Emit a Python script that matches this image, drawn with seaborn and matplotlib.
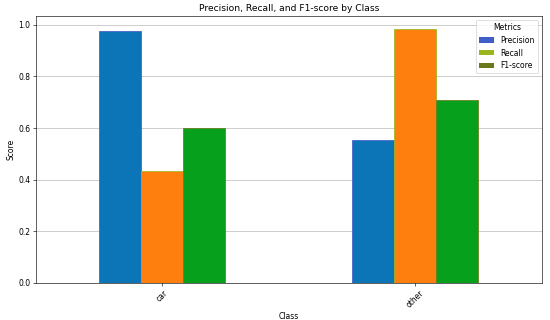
import pandas as pd
import seaborn as sns
import matplotlib.pyplot as plt
from matplotlib.patches import Patch

classes = ["car", "other"]
metrics = ["Precision", "Recall", "F1-score"]
precision = [0.975, 0.555]
recall = [0.435, 0.985]
f1_score = [0.60, 0.71]

bar_colors = ["#0b75b8", "#ff7f0e", "#06a01c"]
legend_colors = ["#3f5fc6", "#9bb51c", "#687a1a"]

df = pd.DataFrame({"Class": classes, "Precision": precision,
                   "Recall": recall, "F1-score": f1_score})
long_df = df.melt(id_vars="Class", var_name="Metric", value_name="Score")

fig, ax = plt.subplots(figsize=(10, 5.82), dpi=55)
fig.subplots_adjust(left=0.065, right=0.985, top=0.95, bottom=0.116)

sns.barplot(data=long_df, x="Class", y="Score", hue="Metric",
            hue_order=metrics, palette=bar_colors, width=0.5, gap=0,
            saturation=1, errorbar=None, legend=False, ax=ax)

for cont, c in zip(ax.containers, legend_colors):
    for bar in cont:
        bar.set_edgecolor(c)
        bar.set_linewidth(1.0)

ax.set_xlim(-0.5, 1.5)
ax.margins(y=0.05)
ax.set_ylim(0, None)
ax.yaxis.grid(True, color="#b0b0b0", linewidth=0.8)
ax.set_axisbelow(True)
ax.tick_params(axis="x", labelrotation=45)

handles = [Patch(facecolor=c, label=m) for c, m in zip(legend_colors, metrics)]
ax.legend(handles=handles, title="Metrics", loc="upper right")

ax.set_title("Precision, Recall, and F1-score by Class")
ax.set_xlabel("Class")
ax.set_ylabel("Score")

plt.savefig("out.png", dpi=55)
